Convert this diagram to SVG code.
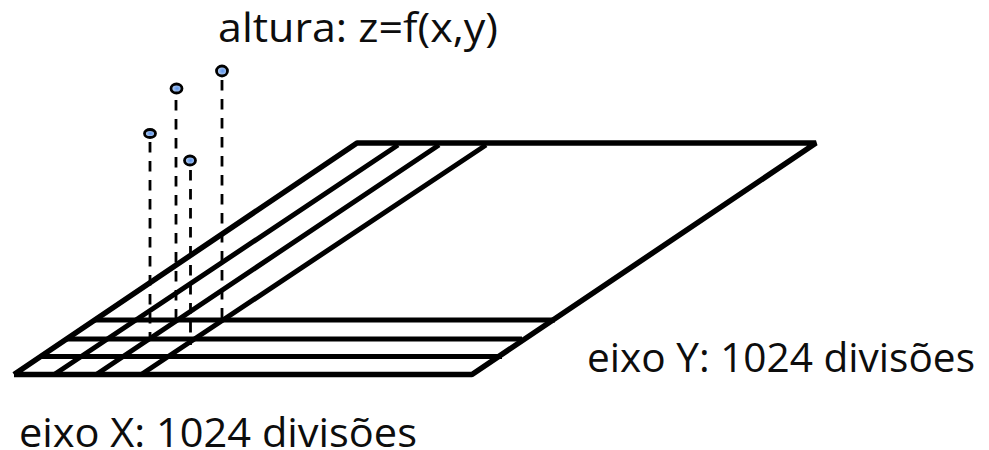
<svg xmlns="http://www.w3.org/2000/svg" width="989" height="450" viewBox="0 0 989 450">
<defs><radialGradient id="p" cx="55%" cy="50%" r="55%"><stop offset="0" stop-color="#5a92ea"/><stop offset="0.7" stop-color="#a9c6ee"/><stop offset="1" stop-color="#e6eefa"/></radialGradient></defs>
<style>
.l{stroke:#000;stroke-width:5.500;fill:none;stroke-linejoin:bevel}
.t{stroke:#000;stroke-width:5;fill:none}
.d{stroke:#000;stroke-width:2.800;fill:none;stroke-dasharray:10.500 8.500}
.p{fill:url(#p);stroke:#000;stroke-width:2.800}
text{font-family:"Open Sans","Lato",sans-serif;font-size:40px;fill:#0d0d0d}
</style>
<rect width="989" height="450" fill="#fff"/>
<g id="connectors">
<path class="d" d="M150 142V336"/><path class="d" d="M176 100V318"/><path class="d" d="M190.500 170V345"/><path class="d" d="M222 80V318"/>
</g>
<g id="grid">
<path class="l" d="M14 374.500H472L816 143H357L14 374.500"/>
<path class="t" d="M95 320H555M66 339H522M41 356.500H502"/>
<path class="t" d="M55 374L398 145M97 374L439 145M142 374L486 145"/>
</g>
<g id="point1"><ellipse class="p" cx="150" cy="133.500" rx="5.500" ry="4"/></g>
<g id="point2"><ellipse class="p" cx="176.500" cy="88.500" rx="5.500" ry="4.500"/></g>
<g id="point3"><ellipse class="p" cx="190" cy="160.500" rx="5.500" ry="4.500"/></g>
<g id="point4"><ellipse class="p" cx="222" cy="71" rx="5.500" ry="5"/></g>
<g id="title"><text x="218" y="42" textLength="280" lengthAdjust="spacingAndGlyphs">altura: z=f(x,y)</text></g>
<g id="label-y"><text x="587" y="372" textLength="388" lengthAdjust="spacingAndGlyphs">eixo Y: 1024 divisões</text></g>
<g id="label-x"><text x="19" y="447" textLength="398" lengthAdjust="spacingAndGlyphs">eixo X: 1024 divisões</text></g>
</svg>
